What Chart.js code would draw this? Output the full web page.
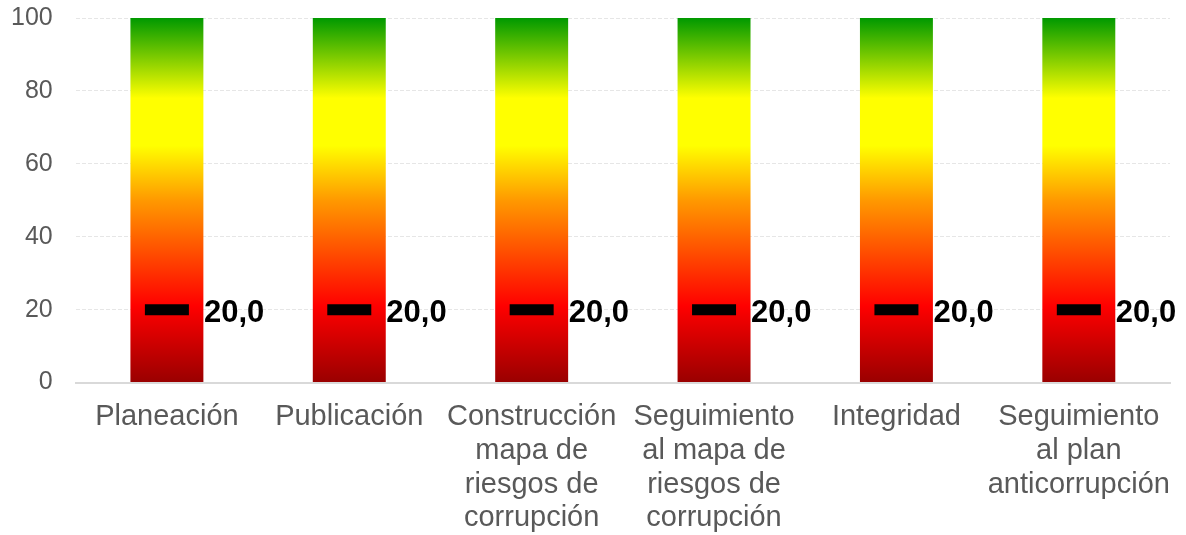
<!DOCTYPE html>
<html lang="es">
<head>
<meta charset="utf-8">
<script src="https://cdn.jsdelivr.net/npm/chart.js@4/dist/chart.umd.min.js"></script>
<style>
  html, body { margin: 0; padding: 0; background: #ffffff; }
  #wrap { width: 1186px; height: 535px; position: relative; }
</style>
</head>
<body>
<div id="wrap"><canvas id="chart"></canvas></div>
<script>
// Componentes evaluados (cada etiqueta partida en líneas)
const categories = [
  ['Planeación'],
  ['Publicación'],
  ['Construcción', 'mapa de', 'riesgos de', 'corrupción'],
  ['Seguimiento', 'al mapa de', 'riesgos de', 'corrupción'],
  ['Integridad'],
  ['Seguimiento', 'al plan', 'anticorrupción']
];
// Escala completa del semáforo (fondo de cada columna)
const scaleMax = [100, 100, 100, 100, 100, 100];
// Puntaje obtenido por componente
const scores = [20.0, 20.0, 20.0, 20.0, 20.0, 20.0];
// Marcas del eje vertical
const yTicks = [0, 20, 40, 60, 80, 100];

function trafficGradient(context) {
  const chart = context.chart;
  const area = chart.chartArea;
  if (!area) return '#ff0000';
  const y = chart.scales.y;
  const g = chart.ctx.createLinearGradient(0, y.getPixelForValue(0), 0, y.getPixelForValue(100));
  g.addColorStop(0.00, '#990000');
  g.addColorStop(0.21, '#ff0000');
  g.addColorStop(0.50, '#ff9900');
  g.addColorStop(0.65, '#ffff00');
  g.addColorStop(0.78, '#ffff00');
  g.addColorStop(1.00, '#009900');
  return g;
}

// Etiqueta de valor a la derecha de cada marca
const scoreLabels = {
  id: 'scoreLabels',
  afterDatasetsDraw(chart) {
    const meta = chart.getDatasetMeta(0);
    const ctx = chart.ctx;
    ctx.save();
    ctx.font = 'bold 31px "Liberation Sans", Arial, sans-serif';
    ctx.fillStyle = '#000000';
    ctx.textAlign = 'left';
    ctx.textBaseline = 'alphabetic';
    meta.data.forEach((pt, i) => {
      const txt = scores[i].toFixed(1).replace('.', ',');
      ctx.fillText(txt, pt.x + 37, pt.y + 12.5);
    });
    ctx.restore();
  }
};

new Chart(document.getElementById('chart'), {
  type: 'bar',
  data: {
    labels: categories,
    datasets: [
      {
        type: 'line',
        data: scores,
        showLine: false,
        pointStyle: 'line',
        pointRadius: 22,
        pointHoverRadius: 22,
        pointBorderWidth: 11,
        pointHoverBorderWidth: 11,
        borderColor: '#000000',
        backgroundColor: '#000000',
        order: 0
      },
      {
        data: scaleMax,
        backgroundColor: trafficGradient,
        borderWidth: 0,
        categoryPercentage: 0.8,
        barPercentage: 0.5,
        order: 1
      }
    ]
  },
  options: {
    responsive: true,
    maintainAspectRatio: false,
    animation: false,
    layout: { autoPadding: false, padding: { top: 0, right: 16, left: 11, bottom: 0 } },
    plugins: {
      legend: { display: false },
      tooltip: { enabled: false },
      title: { display: false }
    },
    scales: {
      x: {
        grid: { display: false, drawTicks: true, tickLength: 18 },
        border: { display: true, color: '#d9d9d9', width: 2 },
        ticks: {
          autoSkip: false,
          maxRotation: 0,
          minRotation: 0,
          padding: 0,
          color: '#595959',
          font: { family: '"Liberation Sans", Arial, sans-serif', size: 29, lineHeight: 1.159 }
        }
      },
      y: {
        min: 0,
        max: 100,
        afterBuildTicks(scale) { scale.ticks = yTicks.map(v => ({ value: v })); },
        grid: {
          drawTicks: true,
          tickLength: 23,
          tickColor: 'rgba(0,0,0,0)',
          color: (c) => c.tick && c.tick.value === 0 ? 'rgba(0,0,0,0)' : '#e6e6e6',
          lineWidth: 1
        },
        border: { display: false, dash: [4, 2] },
        ticks: {
          padding: 0,
          color: '#595959',
          font: { family: '"Liberation Sans", Arial, sans-serif', size: 25, lineHeight: 1.44 }
        }
      }
    }
  },
  plugins: [scoreLabels]
});
</script>
</body>
</html>
